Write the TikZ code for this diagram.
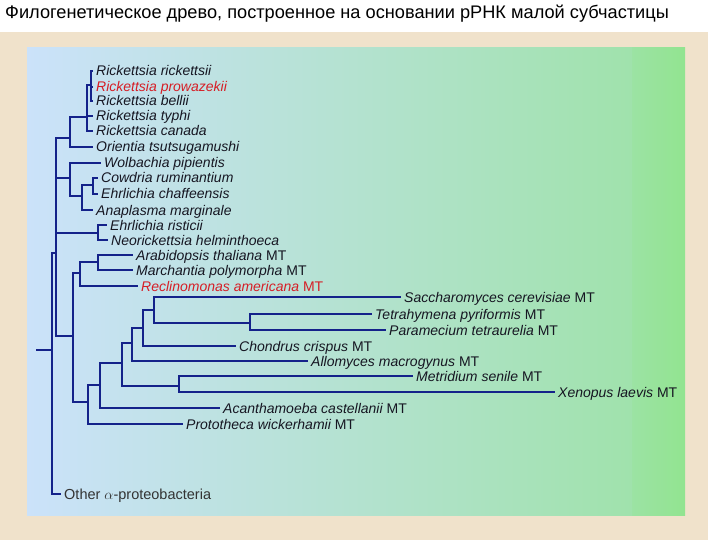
\documentclass[tikz,border=0pt]{standalone}
\usepackage{fontspec}
\setmainfont{Liberation Sans}
\definecolor{beigebg}{RGB}{240,226,203}
\definecolor{skyside}{RGB}{203,226,250}
\definecolor{midtone}{RGB}{184,226,214}
\definecolor{leafside}{RGB}{160,226,172}
\definecolor{leafedge}{RGB}{146,228,144}
\definecolor{treeblue}{RGB}{20,34,138}
\definecolor{labelink}{RGB}{22,22,34}
\definecolor{redink}{RGB}{214,30,38}
\newcommand{\mtag}{{\upshape MT}}

\begin{document}
\begin{tikzpicture}[
  x=1pt, y=-1pt,
  branch/.style={draw=treeblue, line width=2.2pt},
  taxon/.style={anchor=west, inner xsep=3pt, inner ysep=0pt, text height=10pt, text depth=0pt,
    font=\fontsize{14}{15}\selectfont\itshape, text=labelink},
  redtaxon/.style={taxon, text=redink},
  outgroup/.style={taxon, font=\fontsize{14.5}{16}\selectfont, text=black!80}
]
\useasboundingbox (0,0) rectangle (720,540);
\fill[white] (0,0) rectangle (720,540);
\fill[beigebg] (0,32) rectangle (708,540);
\shade[left color=skyside, middle color=midtone, right color=leafside] (27,48) rectangle (632,515);
\shade[left color=leafside!70!leafedge, right color=leafedge] (632,48) rectangle (685,515);

\node[anchor=west, inner sep=0pt, font=\fontsize{18.2}{20}\selectfont] (title) at (5,14)
  {Филогенетическое древо, построенное на основании рРНК малой субчастицы};

\node[taxon] (rrick) at (93,71) {Rickettsia rickettsii};
\node[redtaxon] (rprow) at (93,87) {Rickettsia prowazekii};
\node[taxon] (rbell) at (93,101) {Rickettsia bellii};
\node[taxon] (rtyph) at (93,116) {Rickettsia typhi};
\node[taxon] (rcan) at (93,131) {Rickettsia canada};
\node[taxon] (orient) at (93,147) {Orientia tsutsugamushi};
\node[taxon] (wolb) at (101,163) {Wolbachia pipientis};
\node[taxon] (cowd) at (98,178) {Cowdria ruminantium};
\node[taxon] (echaf) at (98,194) {Ehrlichia chaffeensis};
\node[taxon] (anapl) at (93,210) {Anaplasma marginale};
\node[taxon] (erist) at (107,225) {Ehrlichia risticii};
\node[taxon] (neor) at (108,240) {Neorickettsia helminthoeca};
\node[taxon] (arab) at (133,255) {Arabidopsis thaliana \mtag};
\node[taxon] (march) at (133,270) {Marchantia polymorpha \mtag};
\node[redtaxon] (reclin) at (138,286) {Reclinomonas americana \mtag};
\node[taxon] (sacch) at (401,297) {Saccharomyces cerevisiae \mtag};
\node[taxon] (tetra) at (372,314) {Tetrahymena pyriformis \mtag};
\node[taxon] (param) at (386,330) {Paramecium tetraurelia \mtag};
\node[taxon] (chond) at (236,346) {Chondrus crispus \mtag};
\node[taxon] (allom) at (308,361) {Allomyces macrogynus \mtag};
\node[taxon] (metr) at (413,376) {Metridium senile \mtag};
\node[taxon] (xenop) at (555,392) {Xenopus laevis \mtag};
\node[taxon] (acanth) at (220,408) {Acanthamoeba castellanii \mtag};
\node[taxon] (proto) at (183,424) {Prototheca wickerhamii \mtag};
\node[outgroup] (other) at (61,494) {Other $\alpha$-proteobacteria};

\coordinate (stub) at (36,350);
\coordinate (root) at (52,350);
\coordinate (ingrp) at (56,253);
\coordinate (rickgrp) at (70,138);
\coordinate (rickB) at (87,117);
\coordinate (rickA) at (91,85);
\coordinate (wolgrp) at (70,178);
\coordinate (anagrp) at (82,196);
\coordinate (cowgrp) at (93,185);
\coordinate (neogrp) at (98,233);
\coordinate (mito) at (73,336);
\coordinate (recgrp) at (80,273);
\coordinate (plant) at (98,262);
\coordinate (protgrp) at (88,402);
\coordinate (acangrp) at (100,385);
\coordinate (animgrp) at (122,363);
\coordinate (allogrp) at (132,343);
\coordinate (chongrp) at (143,328);
\coordinate (sacgrp) at (154,310);
\coordinate (cilgrp) at (250,323);
\coordinate (metgrp) at (179,386);

\draw[branch] (stub) -- (root);
\foreach \p/\c in {root/ingrp, root/other.west,
    ingrp/rickgrp, ingrp/wolgrp, ingrp/neogrp, ingrp/mito,
    rickgrp/rickB, rickgrp/orient.west, rickB/rickA, rickB/rtyph.west, rickB/rcan.west,
    rickA/rrick.west, rickA/rprow.west, rickA/rbell.west,
    wolgrp/wolb.west, wolgrp/anagrp, anagrp/cowgrp, anagrp/anapl.west,
    cowgrp/cowd.west, cowgrp/echaf.west, neogrp/erist.west, neogrp/neor.west,
    mito/recgrp, mito/protgrp, recgrp/plant, recgrp/reclin.west,
    plant/arab.west, plant/march.west,
    protgrp/acangrp, protgrp/proto.west, acangrp/animgrp, acangrp/acanth.west,
    animgrp/allogrp, animgrp/metgrp, metgrp/metr.west, metgrp/xenop.west,
    allogrp/chongrp, allogrp/allom.west, chongrp/sacgrp, chongrp/chond.west,
    sacgrp/sacch.west, sacgrp/cilgrp, cilgrp/tetra.west, cilgrp/param.west}
  \draw[branch] (\p) |- (\c);
\end{tikzpicture}
\end{document}
